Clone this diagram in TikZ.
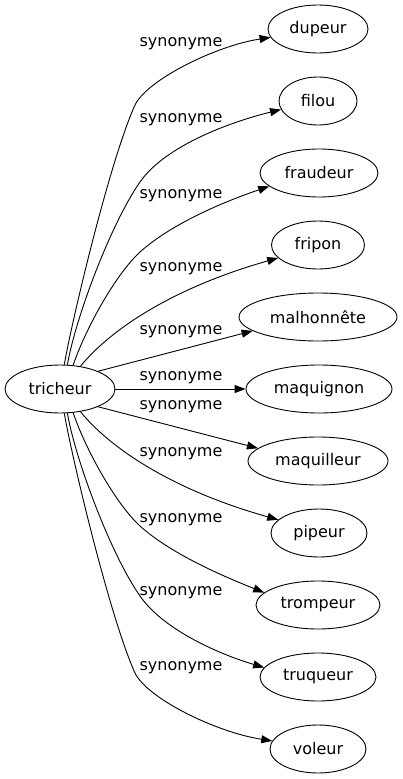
\documentclass[tikz,border=0pt]{standalone}
\usepackage{fontspec}
\setmainfont{DejaVu Sans}
\usetikzlibrary{shapes.geometric,arrows.meta}
\tikzset{
  wnode/.style={ellipse,draw,line width=0.9pt,minimum height=48pt,inner sep=0pt,font=\fontsize{16}{19}\selectfont},
  rel/.style={font=\fontsize{16}{19}\selectfont,inner sep=0pt},
  edge/.style={line width=0.9pt,-{Triangle[length=11pt,width=8pt]}}
}
\begin{document}
\begin{tikzpicture}[x=1pt,y=-1pt]
\useasboundingbox (0,0) rectangle (403,779);
\node[wnode,minimum width=110pt] (t) at (60,389) {tricheur};
\node[wnode,minimum width=100pt] (dup) at (318,29) {dupeur};
\node[wnode,minimum width=78pt] (fil) at (318,101) {filou};
\node[wnode,minimum width=118pt] (fra) at (319,173) {fraudeur};
\node[wnode,minimum width=93pt] (fri) at (318,245) {fripon};
\node[wnode,minimum width=158pt] (mal) at (318,317) {malhonnête};
\node[wnode,minimum width=146pt] (mqg) at (319,389) {maquignon};
\node[wnode,minimum width=140pt] (mql) at (318,461) {maquilleur};
\node[wnode,minimum width=96pt] (pip) at (319,533) {pipeur};
\node[wnode,minimum width=124pt] (trm) at (318,605) {trompeur};
\node[wnode,minimum width=116pt] (trq) at (318,677) {truqueur};
\node[wnode,minimum width=96pt] (vol) at (318,749) {voleur};

\draw[edge] (t.80) .. controls (72,320) and (110,160) .. (135,105) .. controls (147,80) and (215,46) .. (dup.190);
\draw[edge] (t.73) .. controls (75,320) and (110,225) .. (140,182) .. controls (165,146) and (230,122) .. (fil.193);
\draw[edge] (t.61) .. controls (85,330) and (115,275) .. (140,252) .. controls (170,225) and (220,203) .. (fra.195);
\draw[edge] (t.48) .. controls (110,330) and (172,288) .. (fri.198);
\draw[edge] (t.25) -- (mal.192);
\draw[edge] (t.east) -- (mqg.west);
\draw[edge] (t.-25) -- (mql.168);
\draw[edge] (t.-48) .. controls (110,448) and (172,490) .. (pip.162);
\draw[edge] (t.-61) .. controls (85,448) and (115,503) .. (140,526) .. controls (170,553) and (220,575) .. (trm.167);
\draw[edge] (t.-73) .. controls (75,458) and (110,553) .. (140,596) .. controls (165,632) and (225,656) .. (trq.170);
\draw[edge] (t.-80) .. controls (72,458) and (110,618) .. (135,673) .. controls (147,698) and (215,732) .. (vol.170);

\node[rel] (l1) at (181,44) {synonyme};
\node[rel] (l2) at (181,120) {synonyme};
\node[rel] (l3) at (181,196) {synonyme};
\node[rel] (l4) at (181,269) {synonyme};
\node[rel] (l5) at (181,332) {synonyme};
\node[rel] (l6) at (181,378) {synonyme};
\node[rel] (l7) at (181,407) {synonyme};
\node[rel] (l8) at (181,454) {synonyme};
\node[rel] (l9) at (181,520) {synonyme};
\node[rel] (l10) at (181,593) {synonyme};
\node[rel] (l11) at (181,668) {synonyme};
\end{tikzpicture}
\end{document}
